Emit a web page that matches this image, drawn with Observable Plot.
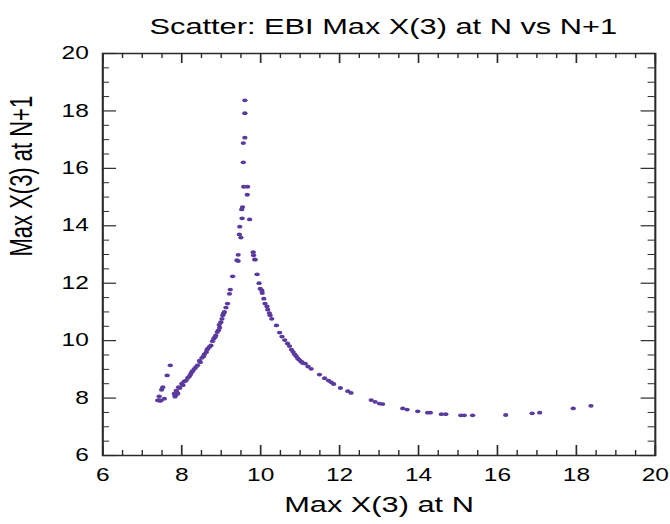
<!DOCTYPE html>
<html><head><meta charset="utf-8">
<script src="https://cdn.jsdelivr.net/npm/d3@7"></script>
<script src="https://cdn.jsdelivr.net/npm/@observablehq/plot@0.6"></script>
<style>
html,body{margin:0;padding:0;background:#fff;}
#chart{width:670px;height:524px;overflow:hidden;}
</style></head><body><div id="chart"></div>
<script>
const title = "Scatter: EBI Max X(3) at N vs N+1";
const xLabel = "Max X(3) at N";
const yLabel = "Max X(3) at N+1";

// Max X(3) at N
const xN = [
  // peak
  9.60, 9.60, 9.60, 9.56, 9.56, 9.57, 9.67, 9.66, 9.54, 9.52, 9.53, 9.72, 9.47, 9.46, 9.50, 9.43, 9.40, 9.43, 9.81, 9.82, 9.85,
  // left branch
  9.29, 9.23, 9.21, 9.16, 9.12, 9.08, 9.06, 9.04, 9.02, 8.99, 8.96, 8.95, 8.93, 8.90, 8.86, 8.84, 8.81, 8.78, 8.74, 8.70, 8.66, 8.64, 8.62,
  8.57, 8.55, 8.51, 8.47, 8.45, 8.40, 8.36, 8.32, 8.28, 8.25, 8.22, 8.19, 8.15, 8.11, 8.06, 8.03, 8.00, 7.95, 7.92, 7.88, 7.86, 7.84, 7.81, 7.90, 7.83,
  // left strand
  7.71, 7.63, 7.52, 7.49, 7.43, 7.39, 7.45, 7.48, 7.56, 7.42,
  // right branch
  9.86, 9.91, 9.96, 9.99, 10.03, 10.04, 10.08, 10.11, 10.16, 10.18, 10.22, 10.24, 10.28,
  10.40, 10.48, 10.54, 10.61, 10.68, 10.73, 10.78, 10.82, 10.86, 10.90, 10.94, 10.97, 11.01, 11.04, 11.07, 11.13, 11.20, 11.28, 11.49,
  11.62, 11.72, 11.79, 11.85, 12.02, 12.21, 12.29, 12.80, 12.90, 13.01, 13.09, 13.60, 13.71, 13.98, 14.23, 14.30, 14.58, 14.69,
  15.07, 15.16, 15.37, 16.21, 16.88, 17.07, 17.92, 18.37
];
// Max X(3) at N+1
const xN1 = [
  // peak
  18.37, 17.92, 17.07, 16.88, 16.21, 15.36, 15.36, 15.08, 14.65, 14.57, 14.26, 14.22, 13.97, 13.70, 13.59, 12.99, 12.80, 12.77, 13.08, 12.97, 12.83,
  // left branch
  12.24, 11.78, 11.63, 11.29, 11.15, 11.00, 10.95, 10.88, 10.76, 10.64, 10.45, 10.55, 10.36, 10.30, 10.18, 10.12, 10.07, 9.98, 9.83, 9.78, 9.72, 9.68, 9.60,
  9.52, 9.45, 9.40, 9.25, 9.30, 9.14, 9.08, 9.02, 8.95, 8.90, 8.82, 8.75, 8.70, 8.61, 8.58, 8.45, 8.50, 8.35, 8.38, 8.20, 8.26, 8.10, 8.15, 8.15, 8.05,
  // left strand
  9.14, 8.79, 8.38, 8.29, 8.06, 7.92, 7.90, 7.92, 7.98, 7.93,
  // right branch
  12.82, 12.31, 12.00, 11.81, 11.75, 11.66, 11.46, 11.29, 11.19, 11.08, 10.96, 10.88, 10.76,
  10.53, 10.28, 10.14, 10.02, 9.90, 9.81, 9.69, 9.61, 9.53, 9.46, 9.38, 9.34, 9.29, 9.26, 9.22, 9.20, 9.10, 9.02, 8.82,
  8.69, 8.61, 8.55, 8.49, 8.35, 8.24, 8.18, 7.93, 7.87, 7.81, 7.79, 7.64, 7.60, 7.54, 7.49, 7.49, 7.44, 7.44,
  7.40, 7.40, 7.40, 7.41, 7.47, 7.49, 7.64, 7.73
];

const majorTicks = [6, 8, 10, 12, 14, 16, 18, 20];
const minorTicks = [6.5, 7, 7.5, 8.5, 9, 9.5, 10.5, 11, 11.5, 12.5, 13, 13.5, 14.5, 15, 15.5, 16.5, 17, 17.5, 18.5, 19, 19.5];

const W = 479, H = 524;
const mL = 73, mR = 11, mT = 53, mB = 69;
const pw = W - mL - mR, ph = H - mT - mB;
const ink = "#2a2a2a";
const points = xN.map((x, i) => ({x, y: xN1[i]}));

const svg = Plot.plot({
  width: W, height: H,
  marginLeft: mL, marginRight: mR, marginTop: mT, marginBottom: mB,
  x: {domain: [6, 20]},
  y: {domain: [6, 20]},
  style: {fontFamily: "'Liberation Sans', Arial, Helvetica, sans-serif", color: "#000", background: "#fff"},
  marks: [
    Plot.axisX(majorTicks, {tickSize: 0, tickPadding: 13, fontSize: 17.5, label: null, fill: "#000"}),
    Plot.axisY(majorTicks, {tickSize: 0, tickPadding: 10, fontSize: 17.5, label: null, fill: "#000"}),
    // inward ticks, bottom / top
    Plot.tickX(majorTicks, {x: d => d, insetTop: ph - 10, stroke: ink, strokeWidth: 1.2}),
    Plot.tickX(minorTicks, {x: d => d, insetTop: ph - 5, stroke: ink, strokeWidth: 1}),
    Plot.tickX(majorTicks, {x: d => d, insetBottom: ph - 10, stroke: ink, strokeWidth: 1.2}),
    Plot.tickX(minorTicks, {x: d => d, insetBottom: ph - 5, stroke: ink, strokeWidth: 1}),
    // inward ticks, left / right
    Plot.tickY(majorTicks, {y: d => d, insetRight: pw - 10, stroke: ink, strokeWidth: 1.2}),
    Plot.tickY(minorTicks, {y: d => d, insetRight: pw - 5, stroke: ink, strokeWidth: 1}),
    Plot.tickY(majorTicks, {y: d => d, insetLeft: pw - 10, stroke: ink, strokeWidth: 1.2}),
    Plot.tickY(minorTicks, {y: d => d, insetLeft: pw - 5, stroke: ink, strokeWidth: 1}),
    Plot.frame({stroke: ink, strokeWidth: 1.5}),
    Plot.dot(points, {x: "x", y: "y", r: 1.9, fill: "#5b3a9e", stroke: "none"}),
    Plot.text([title], {frameAnchor: "top", lineAnchor: "bottom", dy: -20, dx: 3, fontSize: 22, fill: "#000"}),
    Plot.text([xLabel], {frameAnchor: "bottom", lineAnchor: "bottom", dy: 56, fontSize: 22, fill: "#000"}),
    Plot.text([yLabel], {frameAnchor: "left", rotate: -90, dx: -58, dy: 2, fontSize: 22, fill: "#000"})
  ]
});

// the reference is horizontally stretched: stretch the whole drawing to 670px wide
svg.setAttribute("width", 670);
svg.setAttribute("height", 524);
svg.setAttribute("preserveAspectRatio", "none");
svg.style.width = "670px";
svg.style.height = "524px";
svg.style.maxWidth = "none";
document.getElementById("chart").appendChild(svg);
</script>
</body></html>
